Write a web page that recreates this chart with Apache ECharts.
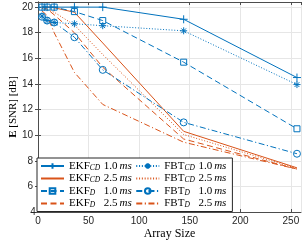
<!DOCTYPE html>
<html>
<head>
<meta charset="utf-8">
<script src="https://cdn.jsdelivr.net/npm/echarts@6/dist/echarts.min.js"></script>
<style>html,body{margin:0;padding:0;background:#fff}#c{width:304px;height:245px}</style>
</head>
<body>
<div id="c"></div>
<script>
// ---- data ----
const arraySizes = [4, 9, 16, 36, 64, 144, 256];
const ekfCD10 = [20, 20, 20, 20, 20, 19.05, 14.5];
const ekfCD25 = [20, 20, 19.95, 19.6, 17.2, 10.3, 7.45];
const ekfD10  = [20, 20, 20, 19.65, 18.95, 15.7, 10.5];
const ekfD25  = [20, 19.85, 19.4, 18.0, 15.3, 9.7, 7.35];
const fbtCD10 = [19.3, 18.95, 18.8, 18.7, 18.55, 18.15, 13.95];
const fbtCD25 = [19.9, 19.8, 19.6, 18.6, 16.3, 10.05, 7.4];
const fbtD10  = [19.25, 18.95, 18.8, 17.65, 15.1, 11.0, 8.55];
const fbtD25  = [19.7, 19.35, 18.0, 14.9, 12.4, 9.45, 7.35];
const xTicks = [0, 50, 100, 150, 200, 250];
const yTicks = [4, 6, 8, 10, 12, 14, 16, 18, 20];
const names = ['EKF_CD 1.0', 'EKF_CD 2.5', 'EKF_D 1.0', 'EKF_D 2.5',
               'FBT_CD 1.0', 'FBT_CD 2.5', 'FBT_D 1.0', 'FBT_D 2.5'];

// ---- styles ----
const BLUE = '#0072BD', ORANGE = '#D95319';
const DASH = [6, 3.5], DOT = [1, 1.8], DASHDOT = [6, 2.5, 1.2, 2.5];
const PLUS = 'path://M5 0L5 10M0 5L10 5';
const STAR = 'path://M5 0L5 10M0 5L10 5M1.6 1.6L8.4 8.4M8.4 1.6L1.6 8.4';

function mk(name, vals, color, type, symbol, size) {
  return {
    name, type: 'line', xAxisIndex: 0, yAxisIndex: 0,
    data: arraySizes.map((x, i) => [x, vals[i]]),
    symbol: symbol || 'none', symbolSize: size || 6,
    showSymbol: !!symbol,
    lineStyle: { color, width: 1, type },
    itemStyle: { color: symbol ? 'rgba(255,255,255,0)' : color, borderColor: color, borderWidth: 1 },
    emphasis: { disabled: true },
    animation: false, z: 3
  };
}

const series = [
  mk(names[0], ekfCD10, BLUE, 'solid', PLUS, 8),
  mk(names[1], ekfCD25, ORANGE, 'solid'),
  mk(names[2], ekfD10, BLUE, DASH, 'rect', 6),
  mk(names[3], ekfD25, ORANGE, DASH),
  mk(names[4], fbtCD10, BLUE, DOT, STAR, 7),
  mk(names[5], fbtCD25, ORANGE, DOT),
  mk(names[6], fbtD10, BLUE, DASHDOT, 'circle', 7),
  mk(names[7], fbtD25, ORANGE, DASHDOT)
];

const legendData = names.map((n, i) => i % 2 === 1
  ? { name: n, itemStyle: { color: 'rgba(0,0,0,0)', borderColor: 'rgba(0,0,0,0)', borderWidth: 0 } }
  : { name: n });

const AX = '#4d4d4d';
const tickLabel = { color: '#262626', fontFamily: 'Liberation Sans', fontSize: 10 };
const SERIF = 'Liberation Serif';

const chart = echarts.init(document.getElementById('c'), null, { renderer: 'canvas' });
chart.setOption({
  animation: false,
  grid: { left: 30, right: 3, top: 2, bottom: 29, show: false },
  xAxis: [{
    type: 'value', min: 0, max: 260, interval: 50,
    name: 'Array Size', nameLocation: 'middle', nameGap: 16, nameMoveOverlap: false,
    nameTextStyle: { fontFamily: SERIF, fontSize: 12, color: '#000' },
    axisLine: { show: true, lineStyle: { color: AX, width: 1 } },
    axisTick: { show: true, inside: true, length: 3, lineStyle: { color: AX } },
    axisLabel: Object.assign({ margin: 4, showMaxLabel: false, alignMinLabel: 'center', hideOverlap: false,
      formatter: v => xTicks.includes(v) ? String(v) : '' }, tickLabel),
    splitLine: { show: true, lineStyle: { color: '#e6e6e6', width: 1 } }
  }, {
    type: 'value', min: 0, max: 260, interval: 50, position: 'top',
    axisLine: { show: true, lineStyle: { color: AX, width: 1 } },
    axisTick: { show: true, inside: true, length: 3, lineStyle: { color: AX } },
    axisLabel: { show: false }, splitLine: { show: false }
  }],
  yAxis: [{
    type: 'value', min: 4, max: 20.4, interval: 2,
    name: '{b|E} [SNR] [dB]', nameLocation: 'middle', nameGap: 19, nameRotate: 90, nameMoveOverlap: false,
    nameTextStyle: { fontFamily: SERIF, fontSize: 11, color: '#000',
      rich: { b: { fontFamily: SERIF, fontSize: 11, fontWeight: 'bold', color: '#000' } } },
    axisLine: { show: true, lineStyle: { color: AX, width: 1 } },
    axisTick: { show: true, inside: true, length: 3, lineStyle: { color: AX } },
    axisLabel: Object.assign({ margin: 5, showMaxLabel: false, alignMinLabel: 'center', hideOverlap: false,
      formatter: v => yTicks.includes(v) ? String(v) : '' }, tickLabel),
    splitLine: { show: true, lineStyle: { color: '#e6e6e6', width: 1 } }
  }, {
    type: 'value', min: 4, max: 20.4, interval: 2, position: 'right',
    axisLine: { show: true, lineStyle: { color: AX, width: 1 } },
    axisTick: { show: true, inside: true, length: 3, lineStyle: { color: AX } },
    axisLabel: { show: false }, splitLine: { show: false }
  }],
  legend: {
    orient: 'vertical', left: 37, top: 158, height: 54,
    data: legendData,
    itemWidth: 23, itemHeight: 7, itemGap: 0.5,
    padding: [2, 3, 2, 3],
    borderColor: '#262626', borderWidth: 1, backgroundColor: '#fff',
    selectedMode: false,
    formatter: name => {
      const [a, rest] = name.split('_');
      const [sub, v] = rest.split(' ');
      return '{n|' + a + '}{s|' + sub + '}{v|' + v + '}{u|ms}{g|}';
    },
    textStyle: {
      fontFamily: SERIF, fontSize: 11, color: '#000', lineHeight: 12,
      rich: {
        n: { fontFamily: SERIF, fontSize: 11, color: '#000', lineHeight: 12 },
        s: { fontFamily: SERIF, fontSize: 7.5, fontStyle: 'italic', color: '#000', width: 11,
             verticalAlign: 'bottom', padding: [2, 0, 0, 0] },
        v: { fontFamily: SERIF, fontSize: 11, color: '#000', lineHeight: 12, padding: [0, 0, 0, 3] },
        u: { fontFamily: SERIF, fontSize: 11, fontStyle: 'italic', color: '#000', lineHeight: 12, padding: [0, 0, 0, 2] },
        g: { width: 3, lineHeight: 12 }
      }
    }
  },
  series
});
</script>
</body>
</html>
